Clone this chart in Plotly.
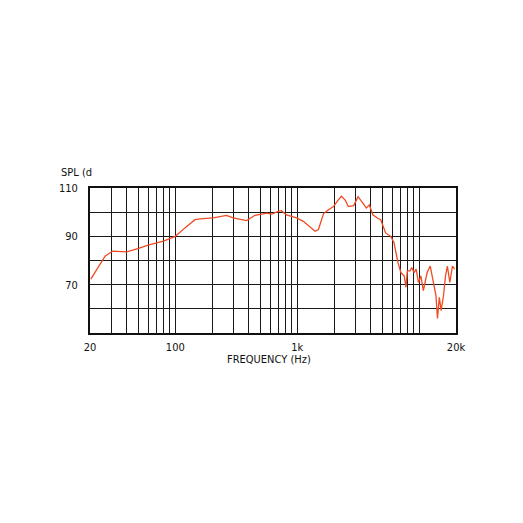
import plotly.graph_objects as go

# frequency response
freq_hz = [20.3, 26.6, 30.7, 40, 50, 60, 80, 100, 120, 145, 160, 205, 263, 298,
           385, 450, 560, 615, 700, 740, 815, 990, 1120, 1270, 1400, 1490, 1640,
           1800, 1980, 2160, 2300, 2470, 2620, 2900, 3150, 3450, 3680, 3900,
           4160, 4530, 4830, 5300, 5830, 6200, 6690, 7070, 7530, 7780, 7980,
           8400, 8670, 9060, 9430, 9840, 10300, 10800, 11600, 12300, 12900,
           13700, 14100, 14600, 15100, 15800, 16400, 17000, 17800, 18700, 19500]
spl_db = [72.3, 81.8, 83.9, 83.6, 85.0, 86.4, 88.0, 90.0, 93.5, 96.9, 97.2, 97.6,
          98.7, 97.6, 96.5, 98.7, 99.6, 99.2, 100.3, 100.6, 98.9, 97.6, 96.2,
          94.1, 92.1, 92.8, 99.3, 101.0, 102.3, 105.0, 106.6, 105.0, 102.3,
          102.7, 106.4, 103.7, 101.7, 103.0, 98.9, 97.6, 96.9, 91.4, 90.0, 87.5,
          79.1, 75.0, 73.6, 68.9, 75.7, 75.7, 77.1, 75.0, 76.4, 70.9, 73.6, 67.5,
          75.0, 77.7, 71.6, 65.5, 56.0, 64.8, 59.3, 65.5, 73.6, 77.7, 70.9, 77.7,
          76.4]

x_grid = [20, 30, 40, 50, 60, 70, 80, 90, 100, 200, 300, 400, 500, 600, 700,
          800, 900, 1000, 2000, 3000, 4000, 5000, 6000, 7000, 8000, 9000, 10000,
          20000]
x_labels = {20: '20', 100: '100', 1000: '1k', 20000: '20k'}
y_grid = [50, 60, 70, 80, 90, 100, 110]
y_labels = {70: '70', 90: '90', 110: '110'}

FONT = 'Liberation Sans Narrow, DejaVu Sans Condensed, Arial Narrow, sans-serif'

fig = go.Figure()
fig.add_trace(go.Scatter(
    x=freq_hz,
    y=spl_db,
    mode='lines',
    line={'color': '#F04A22', 'width': 1.3},
    showlegend=False,
))
fig.update_layout(
    width=515,
    height=515,
    margin={'l': 82, 'r': 67, 't': 180, 'b': 190},
    paper_bgcolor='white',
    plot_bgcolor='white',
    font={'family': FONT, 'size': 11, 'color': '#111111'},
    xaxis={
        'type': 'log',
        'range': [1.30103, 4.30103],
        'tickvals': x_grid,
        'ticktext': [x_labels.get(v, '') for v in x_grid],
        'showgrid': True,
        'gridcolor': '#1a1a1a',
        'gridwidth': 1.3,
        'showline': True,
        'linecolor': '#111111',
        'linewidth': 2,
        'mirror': True,
        'ticks': '',
        'ticklabelstandoff': 3,
        'zeroline': False,
    },
    yaxis={
        'range': [50, 110],
        'tickvals': y_grid,
        'ticktext': [y_labels.get(v, '') for v in y_grid],
        'showgrid': True,
        'gridcolor': '#1a1a1a',
        'gridwidth': 1.3,
        'showline': True,
        'linecolor': '#111111',
        'linewidth': 2,
        'mirror': True,
        'ticks': '',
        'ticklabelstandoff': 8,
        'zeroline': False,
    },
    annotations=[
        {
            'text': 'SPL (d',
            'xref': 'paper', 'yref': 'paper',
            'x': -0.085, 'y': 1.11,
            'xanchor': 'left', 'yanchor': 'middle',
            'showarrow': False,
            'font': {'size': 11},
        },
        {
            'text': 'FREQUENCY (Hz)',
            'xref': 'paper', 'yref': 'paper',
            'x': 0.49, 'y': -0.183,
            'xanchor': 'center', 'yanchor': 'middle',
            'showarrow': False,
            'font': {'size': 11},
        },
    ],
)
fig.write_html('out.html')
